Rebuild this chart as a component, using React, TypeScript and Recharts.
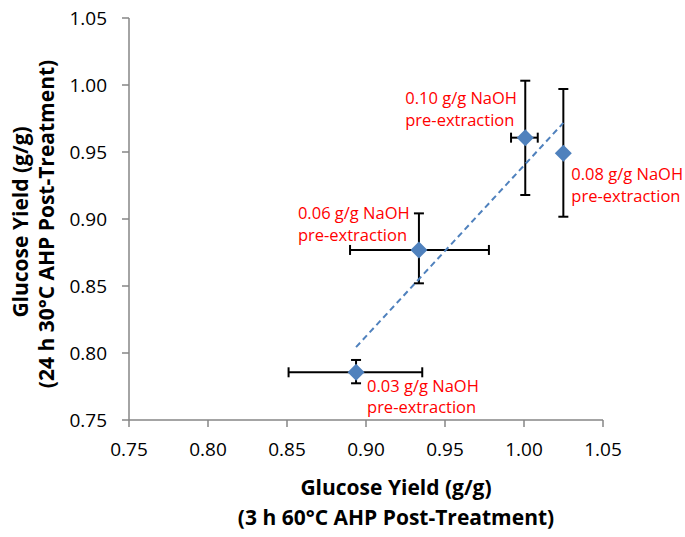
import React from "react";
import { ScatterChart, Scatter, XAxis, YAxis, ErrorBar, Label } from "recharts";

// NaOH pre-extraction loading (g/g) for each point
const loadings = ["0.03", "0.06", "0.10", "0.08"];
// 3 h 60°C AHP glucose yield (x) with error bar ends
const yield3h = [0.8937, 0.9335, 1.0008, 1.0249];
const yield3hLow = [0.851, 0.8899, 0.9918, 1.0249];
const yield3hHigh = [0.9356, 0.9778, 1.0087, 1.0249];
// 24 h 30°C AHP glucose yield (y) with error bar ends
const yield24h = [0.7856, 0.8769, 0.9607, 0.949];
const yield24hLow = [0.7774, 0.852, 0.9179, 0.9017];
const yield24hHigh = [0.7948, 0.9042, 1.0032, 0.997];
// linear trendline end points
const trendX = [0.8937, 1.0249];
const trendY = [0.8044, 0.9717];
const axisTicks = [0.75, 0.8, 0.85, 0.9, 0.95, 1.0, 1.05];

// label placement relative to the marker (px)
const labelOffsets = [
  { dx: 11, dy: 19.5 },
  { dx: -121, dy: -30.7 },
  { dx: -120, dy: -33.7 },
  { dx: 8, dy: 27 },
];

const FONT = "'Open Sans', sans-serif";
const BLUE = "#4F81BD";
const AXIS = "#868686";

const points = yield3h.map((x, i) => ({
  i,
  name: loadings[i],
  x,
  y: yield24h[i],
  ex: [x - yield3hLow[i], yield3hHigh[i] - x],
  ey: [yield24h[i] - yield24hLow[i], yield24hHigh[i] - yield24h[i]],
}));

const trend = trendX.map((x, i) => ({ x, y: trendY[i] }));

function Diamond(props: any) {
  const { cx, cy, payload } = props;
  const r = 8.5;
  const off = labelOffsets[payload.i];
  return (
    <g>
      <path
        d={`M${cx},${cy - r}L${cx + r},${cy}L${cx},${cy + r}L${cx - r},${cy}Z`}
        fill={BLUE}
      />
      <text
        x={cx + off.dx}
        y={cy + off.dy}
        fill="#FF0000"
        fontFamily={FONT}
        fontSize={16.5}
      >
        <tspan x={cx + off.dx}>{payload.name} g/g NaOH</tspan>
        <tspan x={cx + off.dx} dy={21.7}>
          pre-extraction
        </tspan>
      </text>
    </g>
  );
}

const XTitle = () => (
  <text textAnchor="middle" fontFamily={FONT} fontWeight="bold" fontSize={21} fill="#000">
    <tspan x={396} y={495}>Glucose Yield (g/g)</tspan>
    <tspan x={396} y={525}>(3 h 60°C AHP Post-Treatment)</tspan>
  </text>
);

const YTitle = () => (
  <g>
    <text
      transform="translate(28,222) rotate(-90)"
      textAnchor="middle"
      fontFamily={FONT}
      fontWeight="bold"
      fontSize={21}
      fill="#000"
    >
      Glucose Yield (g/g)
    </text>
    <text
      transform="translate(54,224) rotate(-90)"
      textAnchor="middle"
      fontFamily={FONT}
      fontWeight="bold"
      fontSize={21}
      fill="#000"
    >
      (24 h 30°C AHP Post-Treatment)
    </text>
  </g>
);

export default function App() {
  const tick = { fontFamily: FONT, fontSize: 19, fill: "#000" };
  return (
    <div style={{ position: "absolute", left: 0, top: 0, background: "#fff" }}>
      <ScatterChart
        width={685}
        height={537}
        margin={{ top: 18, right: 82, bottom: 0, left: 0 }}
      >
        <XAxis
          type="number"
          dataKey="x"
          domain={[0.75, 1.05]}
          ticks={axisTicks}
          tickFormatter={(v: number) => v.toFixed(2)}
          height={117}
          stroke={AXIS}
          strokeWidth={1.5}
          tickSize={7}
          tickMargin={16}
          tick={tick}
        >
          <Label content={XTitle} />
        </XAxis>
        <YAxis
          type="number"
          dataKey="y"
          domain={[0.75, 1.05]}
          ticks={axisTicks}
          tickFormatter={(v: number) => v.toFixed(2)}
          width={129}
          stroke={AXIS}
          strokeWidth={1.5}
          tickSize={7}
          tickMargin={15}
          tick={tick}
        >
          <Label content={YTitle} />
        </YAxis>
        <Scatter
          data={trend}
          line={{ stroke: BLUE, strokeWidth: 2, strokeDasharray: "6 4" }}
          shape={() => <g />}
          isAnimationActive={false}
        />
        <Scatter data={points} shape={Diamond} isAnimationActive={false}>
          <ErrorBar dataKey="ex" direction="x" width={5} stroke="#000" strokeWidth={2} />
          <ErrorBar dataKey="ey" direction="y" width={5} stroke="#000" strokeWidth={2} />
        </Scatter>
      </ScatterChart>
    </div>
  );
}
